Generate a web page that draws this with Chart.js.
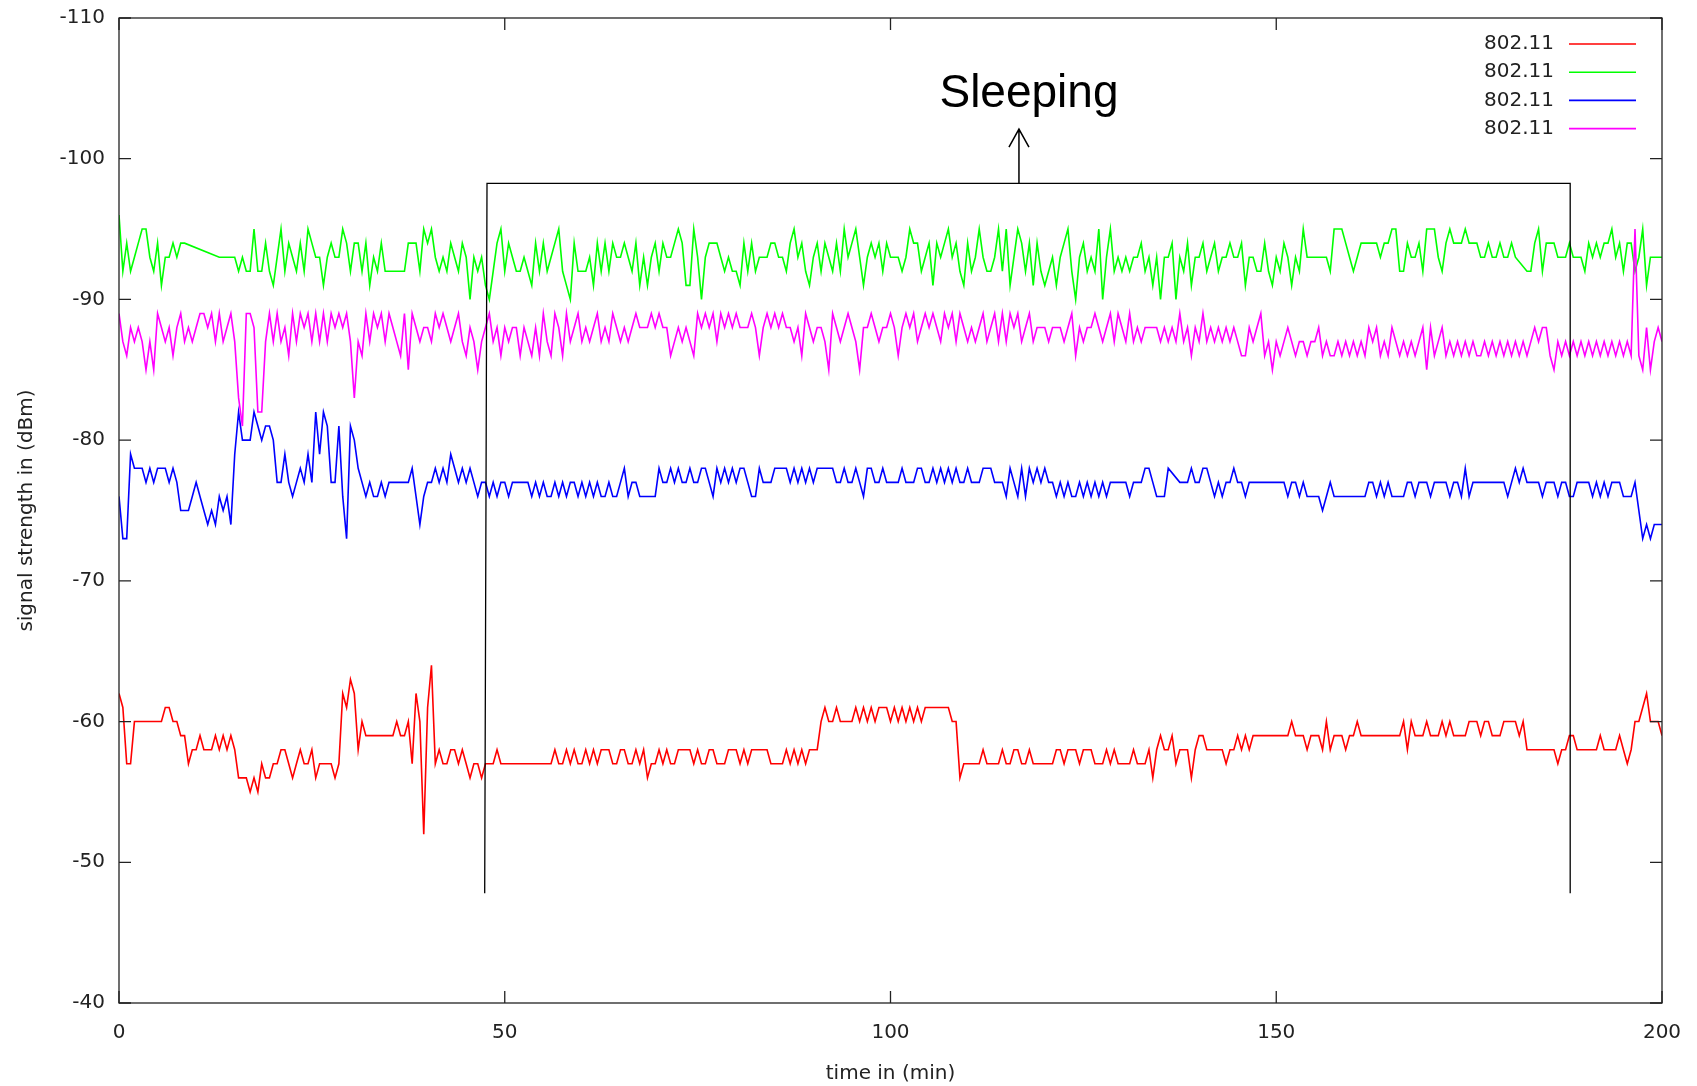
<!DOCTYPE html>
<html>
<head>
<meta charset="utf-8">
<title>signal strength</title>
<script src="https://cdn.jsdelivr.net/npm/chart.js@4.4.0/dist/chart.umd.min.js"></script>
<style>
  body { margin: 0; background: #fff; }
  #wrap { width: 1697px; height: 1086px; }
</style>
</head>
<body>
<div id="wrap"><canvas id="chart" width="1697" height="1086"></canvas></div>
<script>
// one sample every half minute, null = no sample (line is drawn across)
var stepMin = 0.5;
var seriesNames = ["802.11", "802.11", "802.11", "802.11"];
var seriesColors = ["#ff0000", "#00ff00", "#0000ff", "#ff00ff"];

var redValues = [
  -62,-61,-57,-57,-60,-60,-60,-60,-60,-60,-60,-60,-61,-61,-60,-60,-59,-59,-57,-58,
  -58,-59,-58,-58,-58,-59,-58,-59,-58,-59,-58,-56,-56,-56,-55,-56,-55,-57,-56,-56,
  -57,-57,-58,-58,-57,-56,-57,-58,-57,-57,-58,-56,-57,-57,-57,-57,-56,-57,-62,-61,
  -63,-62,-58,-60,-59,-59,-59,-59,-59,-59,-59,-59,-60,-59,-59,-60,-57,-62,-60,-52,
  -61,-64,-57,-58,-57,-57,-58,-58,-57,-58,-57,-56,-57,-57,-56,-57,-57,-57,-58,-57,
  -57,-57,-57,-57,-57,-57,-57,-57,-57,-57,-57,-57,-57,-58,-57,-57,-58,-57,-58,-57,
  -57,-58,-57,-58,-57,-58,-58,-58,-57,-57,-58,-58,-57,-57,-58,-57,-58,-56,-57,-57,
  -58,-57,-58,-57,-57,-58,-58,-58,-58,-57,-58,-57,-57,-58,-58,-57,-57,-57,-58,-58,
  -58,-57,-58,-57,-58,-58,-58,-58,-58,-57,-57,-57,-57,-58,-57,-58,-57,-58,-57,-58,
  -58,-58,-60,-61,-60,-60,-61,-60,-60,-60,-60,-61,-60,-61,-60,-61,-60,-61,-61,-61,
  -60,-61,-60,-61,-60,-61,-60,-61,-60,-61,-61,-61,-61,-61,-61,-61,-60,-60,-56,-57,
  -57,-57,-57,-57,-58,-57,-57,-57,-57,-58,-57,-57,-58,-58,-57,-57,-58,-57,-57,-57,
  -57,-57,-57,-58,-58,-57,-58,-58,-58,-57,-58,-58,-58,-57,-57,-57,-58,-57,-58,-57,
  -57,-57,-57,-58,-57,-57,-57,-58,-56,-58,-59,-58,-58,-59,-57,-58,-58,-58,-56,-58,
  -59,-59,-58,-58,-58,-58,-58,-57,-58,-58,-59,-58,-59,-58,-59,-59,-59,-59,-59,-59,
  -59,-59,-59,-59,-60,-59,-59,-59,-58,-59,-59,-59,-58,-60,-58,-59,-59,-59,-58,-59,
  -59,-60,-59,-59,-59,-59,-59,-59,-59,-59,-59,-59,-59,-60,-58,-60,-59,-59,-59,-60,
  -59,-59,-59,-60,-59,-60,-59,-59,-59,-59,-60,-60,-60,-59,-60,-60,-59,-59,-59,-60,
  -60,-60,-60,-59,-60,-58,-58,-58,-58,-58,-58,-58,-58,-57,-58,-58,-59,-59,-58,-58,
  -58,-58,-58,-58,-59,-58,-58,-58,-58,-59,-58,-57,-58,-60,-60,-61,-62,-60,-60,-60,
  -59
];

var greenValues = [
  -96,-92,-94,-92,-93,-94,-95,-95,-93,-92,-94,-91,-93,-93,-94,-93,-94,-94,null,null,
  null,null,null,null,null,null,-93,-93,-93,-93,-93,-92,-93,-92,-92,-95,-92,-92,-94,-92,
  -91,-93,-95,-92,-94,-93,-92,-94,-92,-95,-94,-93,-93,-91,-93,-94,-93,-93,-95,-94,
  -92,-94,-94,-92,-94,-91,-93,-92,-94,-92,-92,-92,-92,-92,-92,-94,-94,-94,-92,-95,
  -94,-95,-93,-92,-93,-92,-94,-93,-92,-94,-93,-90,-93,-92,-93,-91,-90,-92,-94,-95,
  -92,-94,-93,-92,-92,-93,-92,-91,-94,-92,-94,-92,-93,-94,-95,-92,-91,-90,-94,-92,
  -92,-92,-93,-91,-94,-92,-94,-92,-94,-93,-93,-94,-93,-92,-94,-91,-93,-91,-93,-94,
  -92,-94,-93,-93,-94,-95,-94,-91,-91,-95,-93,-90,-93,-94,-94,-94,-93,-92,-93,-92,
  -92,-91,-94,-92,-94,-92,-93,-93,-93,-94,-94,-93,-93,-92,-94,-95,-93,-94,-92,-91,
  -93,-94,-92,-94,-93,-92,-94,-92,-95,-93,-94,-95,-93,-91,-93,-94,-93,-94,-92,-94,
  -93,-93,-93,-92,-93,-95,-94,-94,-92,-93,-94,-91,-94,-93,-94,-95,-93,-94,-92,-91,
  -94,-92,-93,-95,-93,-92,-92,-93,-95,-92,-95,-91,-93,-95,-94,-92,-94,-91,-94,-92,
  -91,-92,-93,-91,-93,-94,-95,-92,-90,-93,-94,-92,-93,-92,-95,-90,-93,-95,-92,-93,
  -92,-93,-92,-93,-93,-94,-92,-93,-91,-93,-90,-93,-93,-94,-90,-93,-92,-94,-91,-93,
  -93,-94,-92,-93,-94,-92,-93,-93,-94,-93,-93,-94,-91,-93,-93,-92,-92,-94,-92,-91,
  -93,-92,-94,-93,-91,-93,-92,-95,-93,-93,-93,-93,-93,-93,-92,-95,-95,-95,-94,-93,
  -92,-93,-94,-94,-94,-94,-94,-93,-94,-94,-95,-95,-92,-92,-94,-93,-93,-94,-92,-95,
  -95,-95,-93,-92,-94,-95,-94,-94,-94,-95,-94,-94,-94,-93,-93,-94,-93,-93,-94,-93,
  -93,-94,-93,null,null,-92,-92,-94,-95,-92,-94,-94,-94,-93,-93,-93,-94,-93,-93,-93,
  -92,-94,-93,-94,-93,-94,-94,-95,-93,-94,-92,-94,-94,-92,-93,-95,-91,-93,-93,-93,
  -93
];

var blueValues = [
  -76,-73,-73,-79,-78,-78,-78,-77,-78,-77,-78,-78,-78,-77,-78,-77,-75,-75,-75,-76,
  -77,-76,-75,-74,-75,-74,-76,-75,-76,-74,-79,-82,-80,-80,-80,-82,-81,-80,-81,-81,
  -80,-77,-77,-79,-77,-76,-77,-78,-77,-79,-77,-82,-79,-82,-81,-77,-77,-81,-76,-73,
  -81,-80,-78,-77,-76,-77,-76,-76,-77,-76,-77,-77,-77,-77,-77,-77,-78,-76,-74,-76,
  -77,-77,-78,-77,-78,-77,-79,-78,-77,-78,-77,-78,-77,-76,-77,-77,-76,-77,-76,-77,
  -77,-76,-77,-77,-77,-77,-77,-76,-77,-76,-77,-76,-76,-77,-76,-77,-76,-77,-77,-76,
  -77,-76,-77,-76,-77,-76,-76,-77,-76,-76,-77,-78,-76,-77,-77,-76,-76,-76,-76,-76,
  -78,-77,-77,-78,-77,-78,-77,-77,-78,-77,-77,-78,-78,-77,-76,-78,-77,-78,-77,-78,
  -77,-78,-78,-77,-76,-76,-78,-77,-77,-77,-78,-78,-78,-78,-77,-78,-77,-78,-77,-78,
  -77,-78,-78,-78,-78,-78,-77,-77,-78,-77,-77,-78,-77,-76,-78,-78,-77,-77,-78,-77,
  -77,-77,-77,-78,-77,-77,-77,-78,-78,-77,-77,-78,-77,-78,-77,-78,-77,-78,-77,-77,
  -78,-77,-77,-77,-78,-78,-78,-77,-77,-77,-76,-78,-77,-76,-78,-76,-78,-77,-78,-77,
  -78,-77,-77,-76,-77,-76,-77,-76,-76,-77,-76,-77,-76,-77,-76,-77,-76,-77,-77,-77,
  -77,-77,-76,-77,-77,-77,-78,-78,-77,-76,-76,-76,-78,null,null,-77,-77,-77,-78,-77,
  -77,-78,-78,-77,-76,-77,-76,-77,-77,-78,-77,-77,-76,-77,-77,-77,-77,-77,-77,-77,
  -77,-77,-77,-76,-77,-77,-76,-77,-76,-76,-76,-76,-75,-76,-77,-76,-76,-76,-76,-76,
  -76,-76,-76,-76,-77,-77,-76,-77,-76,-77,-76,-76,-76,-76,-77,-77,-76,-77,-77,-77,
  -76,-77,-77,-77,-77,-76,-77,-77,-76,-78,-76,-77,-77,-77,-77,-77,-77,-77,-77,-77,
  -76,-77,-78,-77,-78,-77,-77,-77,-77,-76,-77,-77,-77,-76,-77,-77,-76,-76,-77,-77,
  -77,-77,-76,-77,-76,-77,-76,-77,-77,-77,-76,-76,-76,-77,null,-73,-74,-73,-74,-74,
  -74
];

var magentaValues = [
  -89,-87,-86,-88,-87,-88,-87,-85,-87,-85,-89,-88,-87,-88,-86,-88,-89,-87,-88,-87,
  -88,-89,-89,-88,-89,-87,-89,-87,-88,-89,-87,-83,-81,-89,-89,-88,-82,-82,-87,-89,
  -87,-89,-87,-88,-86,-89,-87,-89,-88,-89,-87,-89,-87,-89,-87,-89,-88,-89,-88,-89,
  -87,-83,-87,-86,-89,-87,-89,-88,-89,-87,-89,-88,-87,-86,-89,-85,-89,-88,-87,-88,
  -88,-87,-89,-88,-89,-88,-87,-88,-89,-87,-86,-88,-87,-85,-87,-88,-89,-87,-88,-86,
  -88,-87,-88,-88,-86,-88,-87,-86,-88,-86,-89,-87,-86,-89,-88,-86,-89,-87,-88,-89,
  -87,-88,-87,-88,-89,-87,-88,-87,-89,-88,-87,-88,-87,-88,-89,-88,-88,-88,-89,-88,
  -89,-88,-88,-86,-87,-88,-87,-88,-87,-86,-89,-88,-89,-88,-89,-87,-89,-88,-89,-88,
  -89,-88,-88,-88,-89,-88,-86,-88,-89,-88,-89,-88,-89,-88,-88,-87,-88,-86,-89,-88,
  -87,-88,-88,-87,-85,-89,-88,-87,-88,-89,-88,-87,-85,-88,-88,-89,-88,-87,-88,-88,
  -89,-88,-86,-88,-89,-88,-89,-87,-88,-89,-88,-89,-88,-87,-89,-88,-89,-87,-89,-88,
  -87,-88,-87,-88,-89,-87,-88,-89,-87,-89,-87,-89,-88,-89,-87,-88,-89,-87,-88,-88,
  -88,-87,-88,-88,-88,-87,-88,-89,-86,-88,-87,-88,-88,-89,-88,-87,-88,-89,-87,-89,
  -88,-87,-89,-87,-88,-87,-88,-88,-88,-88,-87,-88,-87,-88,-87,-89,-87,-88,-86,-88,
  -87,-89,-87,-88,-87,-88,-87,-88,-87,-88,-87,-86,-86,-88,-87,-88,-89,-86,-87,-85,
  -87,-86,-87,-88,-87,-86,-87,-87,-86,-87,-87,-88,-86,-87,-86,-86,-87,-86,-87,-86,
  -87,-86,-87,-86,-88,-87,-88,-86,-87,-86,-88,-87,-86,-87,-86,-87,-86,-87,-88,-85,
  -88,-86,-87,-88,-86,-87,-86,-87,-86,-87,-86,-87,-86,-86,-87,-86,-87,-86,-87,-86,
  -87,-86,-87,-86,-87,-86,-87,-88,-87,-88,-88,-86,-85,-87,-86,-87,-86,-87,-86,-87,
  -86,-87,-86,-87,-86,-87,-86,-87,-86,-87,-86,-87,-86,-95,-86,-85,-88,-85,-87,-88,
  -87
];

var xTicks = [0, 50, 100, 150, 200];
var yTicks = [-110, -100, -90, -80, -70, -60, -50, -40];

// the "Sleeping" bracket, arrow and label (in data units)
var bracketX = [47.4, 47.7, 188.1, 188.1];
var bracketY = [-47.8, -98.25, -98.25, -47.8];
var arrowX = 116.65, arrowFromY = -98.25, arrowToY = -102.1;
var noteText = "Sleeping", noteX = 117.95, noteY = -103.7;

var xTitle = "time in (min)";
var yTitle = "signal strength in (dBm)";

function toPoints(values) {
  var pts = [];
  for (var i = 0; i < values.length; i++) {
    pts.push({ x: i * stepMin, y: values[i] });
  }
  return pts;
}

function lineSet(name, values, color, order) {
  return {
    label: name,
    data: toPoints(values),
    borderColor: color,
    borderWidth: 1.6,
    pointRadius: 0,
    tension: 0,
    spanGaps: true,
    fill: false,
    order: order
  };
}

var bracketPoints = [];
for (var b = 0; b < bracketX.length; b++) bracketPoints.push({ x: bracketX[b], y: bracketY[b] });

var tickLen = 12;

var gnuplotLook = {
  id: 'gnuplotLook',
  afterDraw: function (chart) {
    var ctx = chart.ctx, area = chart.chartArea;
    var xs = chart.scales.x, ys = chart.scales.y;
    ctx.save();

    // frame and inward ticks on all four sides
    ctx.strokeStyle = '#222';
    ctx.lineWidth = 1.3;
    ctx.strokeRect(area.left, area.top, area.right - area.left, area.bottom - area.top);
    ctx.beginPath();
    yTicks.forEach(function (v) {
      var py = ys.getPixelForValue(v);
      ctx.moveTo(area.left, py); ctx.lineTo(area.left + tickLen, py);
      ctx.moveTo(area.right, py); ctx.lineTo(area.right - tickLen, py);
    });
    xTicks.forEach(function (v) {
      var px = xs.getPixelForValue(v);
      ctx.moveTo(px, area.bottom); ctx.lineTo(px, area.bottom - tickLen);
      ctx.moveTo(px, area.top); ctx.lineTo(px, area.top + tickLen);
    });
    ctx.stroke();

    // arrow up from the bracket
    var ax = xs.getPixelForValue(arrowX);
    var ay0 = ys.getPixelForValue(arrowFromY), ay1 = ys.getPixelForValue(arrowToY);
    ctx.strokeStyle = '#000';
    ctx.lineWidth = 1.5;
    ctx.beginPath();
    ctx.moveTo(ax, ay0); ctx.lineTo(ax, ay1);
    ctx.moveTo(ax - 10, ay1 + 18); ctx.lineTo(ax, ay1); ctx.lineTo(ax + 10, ay1 + 18);
    ctx.stroke();

    ctx.fillStyle = '#000';
    ctx.font = '46px "Liberation Sans", Arial, sans-serif';
    ctx.textAlign = 'center';
    ctx.textBaseline = 'alphabetic';
    ctx.fillText(noteText, xs.getPixelForValue(noteX), ys.getPixelForValue(noteY));

    // key, gnuplot style: text then line sample
    ctx.font = '20px "DejaVu Sans", sans-serif';
    ctx.fillStyle = '#222';
    ctx.textAlign = 'right';
    ctx.textBaseline = 'middle';
    ctx.lineWidth = 1.6;
    for (var i = 0; i < seriesNames.length; i++) {
      var ky = area.top + 26 + i * 28.2;
      ctx.fillText(seriesNames[i], area.right - 108, ky);
      ctx.strokeStyle = seriesColors[i];
      ctx.beginPath();
      ctx.moveTo(area.right - 93, ky); ctx.lineTo(area.right - 26, ky);
      ctx.stroke();
    }

    // axis titles
    ctx.fillStyle = '#222';
    ctx.textAlign = 'center';
    ctx.textBaseline = 'middle';
    ctx.fillText(xTitle, (area.left + area.right) / 2, 1074);
    ctx.translate(27, (area.top + area.bottom) / 2);
    ctx.rotate(-Math.PI / 2);
    ctx.fillText(yTitle, 0, 0);
    ctx.restore();
  }
};

Chart.defaults.font.family = '"DejaVu Sans", sans-serif';
Chart.defaults.font.size = 20;
Chart.defaults.color = '#222';

new Chart(document.getElementById('chart'), {
  type: 'line',
  data: {
    datasets: [
      lineSet(seriesNames[0], redValues, seriesColors[0], 4),
      lineSet(seriesNames[1], greenValues, seriesColors[1], 3),
      lineSet(seriesNames[2], blueValues, seriesColors[2], 2),
      lineSet(seriesNames[3], magentaValues, seriesColors[3], 1),
      {
        label: 'bracket',
        data: bracketPoints,
        borderColor: '#000',
        borderWidth: 1.3,
        pointRadius: 0,
        tension: 0,
        fill: false,
        order: 0
      }
    ]
  },
  options: {
    responsive: false,
    animation: false,
    events: [],
    layout: { padding: { top: 8, right: 35, left: 0, bottom: 0 } },
    plugins: { legend: { display: false }, tooltip: { enabled: false } },
    scales: {
      x: {
        type: 'linear', min: 0, max: 200,
        ticks: { stepSize: 50, padding: 10, maxRotation: 0 },
        grid: { display: false },
        border: { display: false },
        afterFit: function (s) { s.height = 83; }
      },
      y: {
        type: 'linear', min: -110, max: -40, reverse: true,
        ticks: { stepSize: 10, padding: 6 },
        grid: { display: false },
        border: { display: false },
        afterFit: function (s) { s.width = 119; }
      }
    }
  },
  plugins: [gnuplotLook]
});
</script>
</body>
</html>
